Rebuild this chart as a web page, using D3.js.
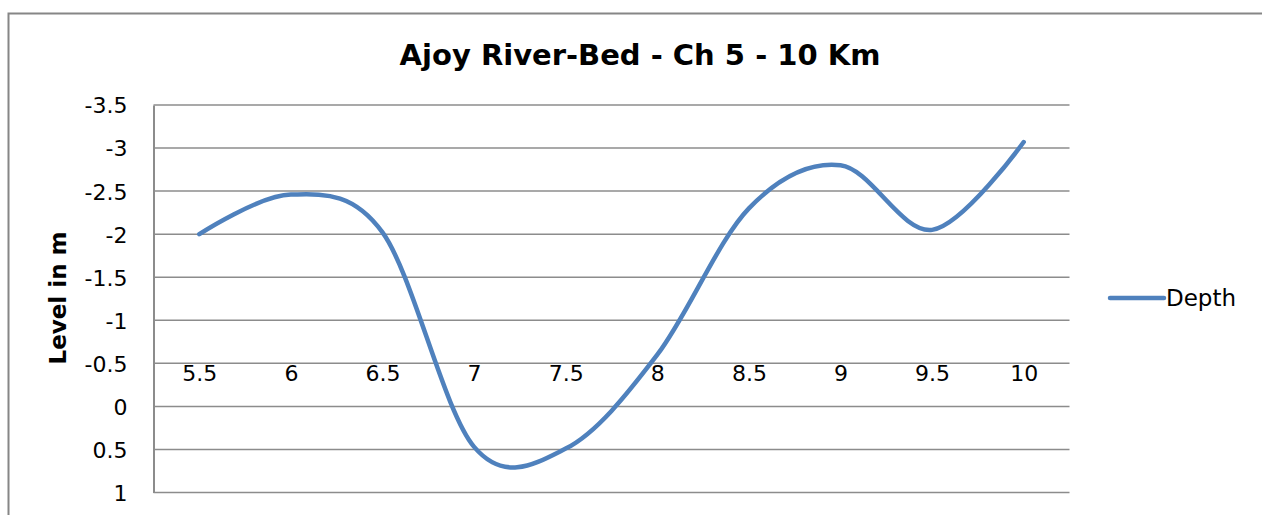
<!DOCTYPE html>
<html>
<head>
<meta charset="utf-8">
<script src="https://cdn.jsdelivr.net/npm/d3@7"></script>
<style>
  body { margin: 0; background: #fff; }
  text { font-family: "DejaVu Sans", Verdana, sans-serif; }
</style>
</head>
<body>
<div id="chart"></div>
<script>
// data
var categories = ["5.5", "6", "6.5", "7", "7.5", "8", "8.5", "9", "9.5", "10"];
var depth = [-2.0, -2.46, -2.02, 0.47, 0.49, -0.6, -2.3, -2.8, -2.05, -3.07];
var yTicks = [-3.5, -3, -2.5, -2, -1.5, -1, -0.5, 0, 0.5, 1];

var width = 1262, height = 515;
var plotLeft = 153.5, plotRight = 1069.5, plotTop = 105, plotBottom = 492.5;

var svg = d3.select('#chart').append('svg').attr('width', width).attr('height', height);

// chart frame (only top and left edges visible)
svg.append('path')
  .attr('d', 'M8.5,515 L8.5,13.5 L1262,13.5')
  .attr('fill', 'none').attr('stroke', '#868686').attr('stroke-width', 2);

var x = d3.scalePoint().domain(categories).range([plotLeft, plotRight]).padding(0.5);
var y = d3.scaleLinear().domain([-3.5, 1]).range([plotTop, plotBottom]);

// gridlines
svg.append('g').selectAll('line')
  .data(yTicks).join('line')
  .attr('x1', plotLeft).attr('x2', plotRight)
  .attr('y1', d => y(d)).attr('y2', d => y(d))
  .attr('stroke', '#8c8c8c').attr('stroke-width', 1.5)

// value axis (plain hyphen minus like the original)
var yAxis = d3.axisLeft(y).tickValues(yTicks).tickSize(0).tickPadding(26)
  .tickFormat(d => String(d));
var gy = svg.append('g').attr('transform', 'translate(' + plotLeft + ',0)').call(yAxis);
gy.select('.domain').attr('stroke', '#8c8c8c').attr('stroke-width', 2);
gy.selectAll('text').attr('font-size', 22).attr('fill', '#000').attr('dy', '0.36em');

// category axis crossing at -0.5
var xAxis = d3.axisBottom(x).tickSize(0).tickPadding(2);
var gx = svg.append('g').attr('transform', 'translate(0,' + y(-0.5) + ')').call(xAxis);
gx.select('.domain').remove();
gx.selectAll('text').attr('font-size', 22).attr('fill', '#000');

// the series, smoothed like the spreadsheet line
var line = d3.line()
  .x((d, i) => x(categories[i]))
  .y(d => y(d))
  .curve(d3.curveCardinal.tension(0));

svg.append('path')
  .datum(depth)
  .attr('d', line)
  .attr('fill', 'none')
  .attr('stroke', '#4f81bd')
  .attr('stroke-width', 4.5)
  .attr('stroke-linecap', 'round');

// title
svg.append('text')
  .attr('x', 640).attr('y', 65)
  .attr('text-anchor', 'middle')
  .attr('font-size', 29).attr('font-weight', 'bold')
  .text('Ajoy River-Bed - Ch 5 - 10 Km');

// y axis title
svg.append('text')
  .attr('transform', 'translate(66,298) rotate(-90)')
  .attr('text-anchor', 'middle')
  .attr('font-size', 23).attr('font-weight', 'bold')
  .text('Level in m');

// legend
var lg = svg.append('g');
lg.append('line')
  .attr('x1', 1110).attr('x2', 1164).attr('y1', 298).attr('y2', 298)
  .attr('stroke', '#4f81bd').attr('stroke-width', 4.5).attr('stroke-linecap', 'round');
lg.append('text')
  .attr('x', 1166).attr('y', 306)
  .attr('font-size', 23)
  .text('Depth');
</script>
</body>
</html>
